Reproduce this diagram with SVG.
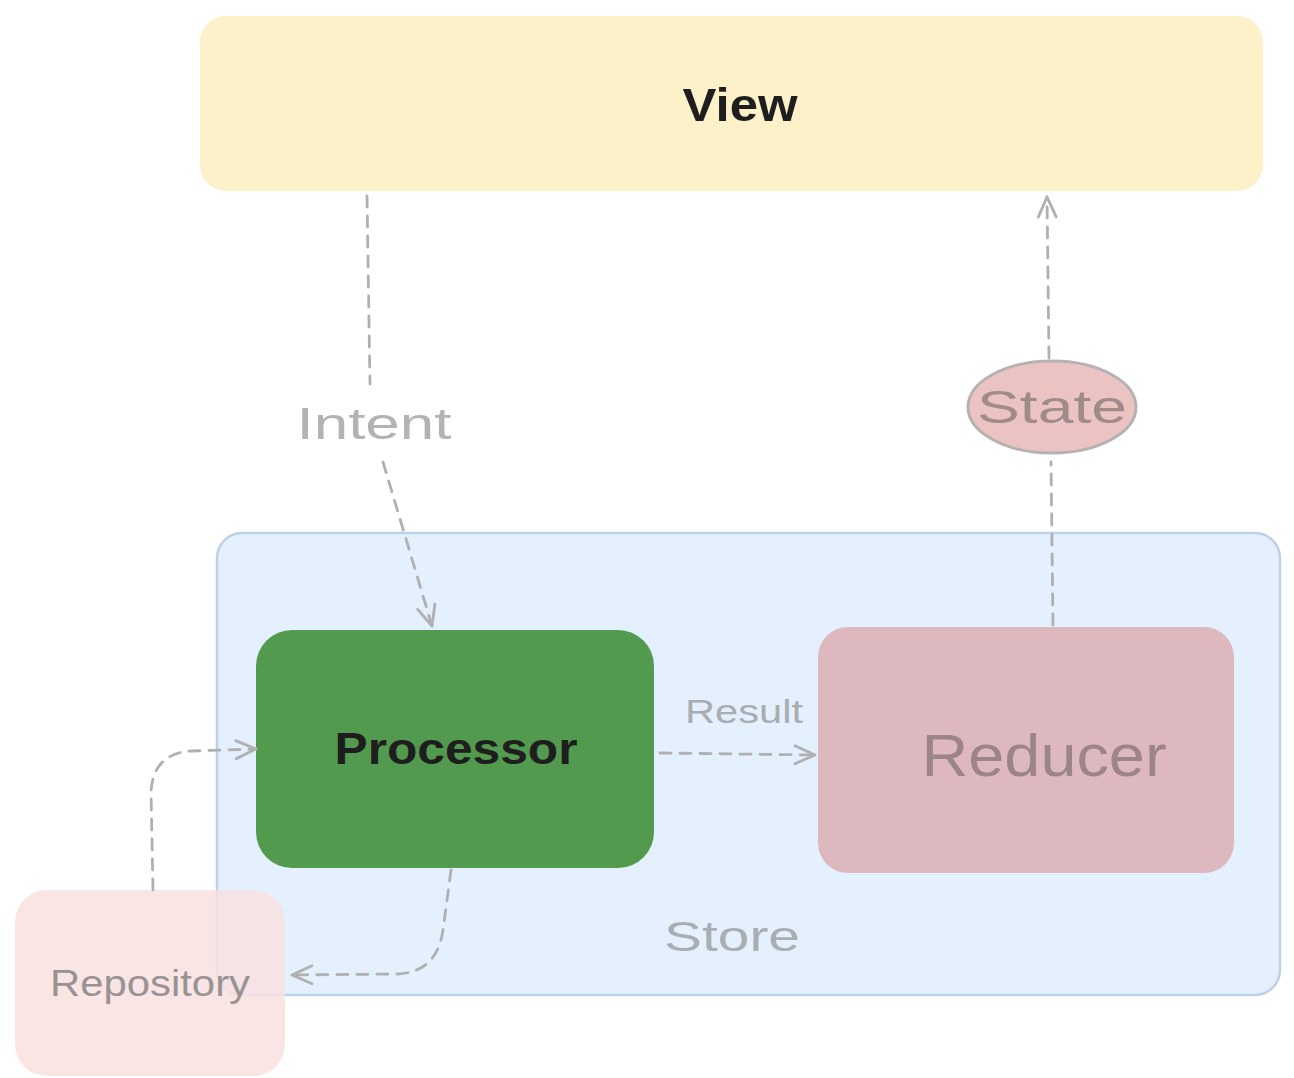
<svg xmlns="http://www.w3.org/2000/svg" width="1294" height="1078" viewBox="0 0 1294 1078">
  <defs>
    <style>
      .lbl { font-family: "Liberation Sans", "DejaVu Sans", sans-serif; text-anchor: middle; dominant-baseline: central; }
      .edge { fill: none; stroke: #b0b0b0; stroke-width: 2.8; stroke-dasharray: 11 9; stroke-linecap: round; }
      .head { fill: none; stroke: #b0b0b0; stroke-width: 2.8; stroke-linecap: round; stroke-linejoin: round; }
    </style>
    <marker id="arrow" viewBox="0 0 24 24" refX="22" refY="12" markerWidth="24" markerHeight="24" markerUnits="userSpaceOnUse" orient="auto">
      <path class="head" d="M2,3 L22,12 L2,21"/>
    </marker>
  </defs>
  <rect width="1294" height="1078" fill="#ffffff"/>

  <g id="view">
    <rect x="200" y="16" width="1063" height="175" rx="26" fill="#fcf1c9"/>
    <text class="lbl" x="740" y="105" font-size="46" font-weight="bold" fill="#1e1e1e" textLength="115" lengthAdjust="spacingAndGlyphs">View</text>
  </g>

  <g id="store">
    <rect x="217" y="533" width="1063" height="462" rx="25" fill="#e4f0fd" stroke="#bcd1ea" stroke-width="2.5"/>
    <text class="lbl" x="732" y="936" font-size="42" fill="#a9aeb3" textLength="136" lengthAdjust="spacingAndGlyphs">Store</text>
  </g>

  <g id="processor">
    <rect x="256" y="630" width="398" height="238" rx="36" fill="#529b4e"/>
    <text class="lbl" x="456" y="748" font-size="44" font-weight="bold" fill="#1e1e1e" textLength="243" lengthAdjust="spacingAndGlyphs">Processor</text>
  </g>

  <g id="reducer">
    <rect x="818" y="627" width="416" height="246" rx="30" fill="#ddb9bf"/>
    <text class="lbl" x="1044" y="755" font-size="60" fill="#9b8587" textLength="245" lengthAdjust="spacingAndGlyphs">Reducer</text>
  </g>

  <g id="repository">
    <rect x="15" y="890" width="270" height="186" rx="32" fill="#f9e0e1" fill-opacity="0.85"/>
    <text class="lbl" x="150" y="983" font-size="36" fill="#999293" textLength="200" lengthAdjust="spacingAndGlyphs">Repository</text>
  </g>

  <g id="state">
    <ellipse cx="1052" cy="407" rx="84" ry="46" fill="#ecc3c3" stroke="#b7b2b2" stroke-width="3"/>
    <text class="lbl" x="1052" y="407" font-size="46" fill="#a08b8b" textLength="150" lengthAdjust="spacingAndGlyphs">State</text>
  </g>

  <g id="connectors">
    <!-- View to Processor, labelled Intent -->
    <path class="edge" d="M367,196 L370,384"/>
    <path class="edge" d="M383,462 L432,626" marker-end="url(#arrow)"/>
    <text class="lbl" x="374" y="423" font-size="44" fill="#b3b3b3" textLength="155" lengthAdjust="spacingAndGlyphs">Intent</text>

    <!-- Reducer to View through State -->
    <path class="edge" d="M1053,625 L1051,462"/>
    <path class="edge" d="M1049,358 L1047,197" marker-end="url(#arrow)"/>

    <!-- Processor to Reducer, labelled Result -->
    <path class="edge" d="M660,753 L815,755" marker-end="url(#arrow)"/>
    <text class="lbl" x="744" y="711" font-size="34" fill="#a9adb1" textLength="118" lengthAdjust="spacingAndGlyphs">Result</text>

    <!-- Processor to Repository -->
    <path class="edge" d="M451,870 L443,930 Q437,972 398,974 L292,975" marker-end="url(#arrow)"/>

    <!-- Repository to Processor -->
    <path class="edge" d="M153,890 L151,792 Q153,753 192,751 L256,749" marker-end="url(#arrow)"/>
  </g>
</svg>
